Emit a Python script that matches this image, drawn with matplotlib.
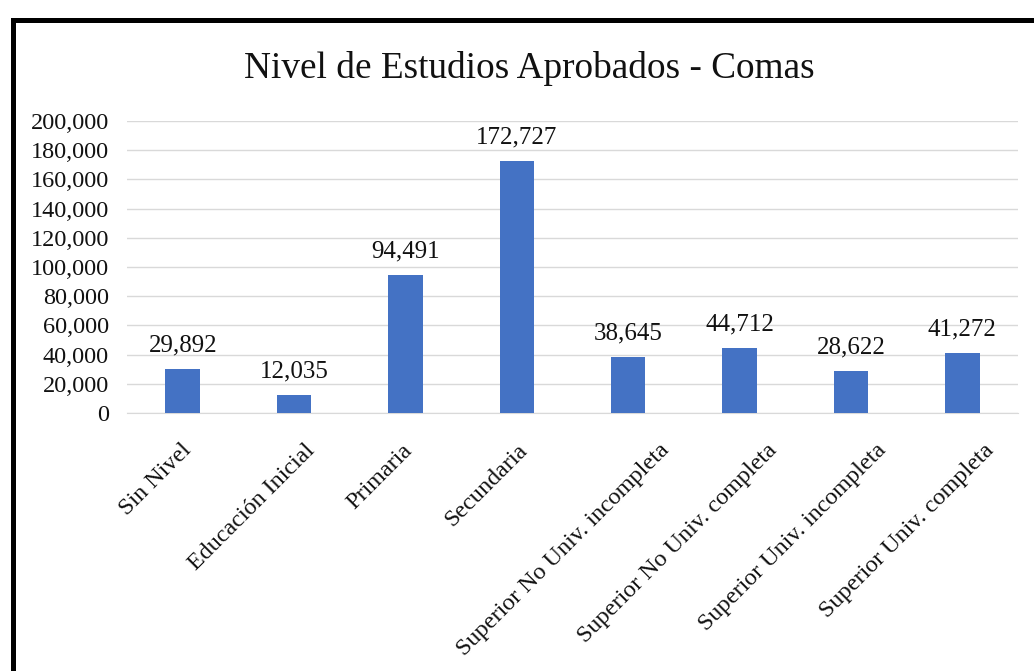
import matplotlib
matplotlib.use("Agg")
import matplotlib.pyplot as plt
from matplotlib.lines import Line2D
from matplotlib.ticker import FuncFormatter, MultipleLocator
from matplotlib.transforms import ScaledTranslation

categories = ["Sin Nivel", "Educación Inicial", "Primaria", "Secundaria",
              "Superior No Univ. incompleta", "Superior No Univ. completa",
              "Superior Univ. incompleta", "Superior Univ. completa"]
values = [29892, 12035, 94491, 172727, 38645, 44712, 28622, 41272]
title = "Nivel de Estudios Aprobados - Comas"

plt.rcParams['font.family'] = ['Liberation Serif', 'DejaVu Serif']

W, H = 1034, 671
fig = plt.figure(figsize=(W/100, H/100), dpi=100)
fig.patch.set_facecolor('white')

ax = fig.add_axes([127/W, 1-413/H, (1018-127)/W, (413-121)/H])
x = list(range(len(categories)))
ax.bar(x, values, width=0.31, color='#4472C4', zorder=3)
ax.set_xlim(-0.5, len(categories)-0.5)
ax.set_ylim(0, 200000)
ax.yaxis.set_major_locator(MultipleLocator(20000))
ax.yaxis.set_major_formatter(FuncFormatter(lambda v, p: f"{int(v):,}"))
ax.grid(axis='y', color='#D9D9D9', linewidth=1.0, zorder=0)
for s in ['top', 'right', 'left']:
    ax.spines[s].set_visible(False)
ax.spines['bottom'].set_color('#D9D9D9')
ax.tick_params(axis='y', length=0, labelsize=17.5, pad=13, labelcolor='#111111')
ax.set_xticks(x)
ax.set_xticklabels([])
ax.tick_params(axis='x', length=0)

# rotated category labels (Excel-like placement: shift grows with label length)
fig.canvas.draw()
renderer = fig.canvas.get_renderer()
label_fs = 17.4
for xi, cat in zip(x, categories):
    tmp = fig.text(0, 0, cat, fontsize=label_fs)
    wpx = tmp.get_window_extent(renderer).width
    tmp.remove()
    dx = (0.162 * wpx - 17) / 100.0
    tr = ax.get_xaxis_transform() + ScaledTranslation(dx, -27/100.0, fig.dpi_scale_trans)
    ax.text(xi, 0, cat, transform=tr, rotation=45, ha='right', va='top',
            rotation_mode='anchor', fontsize=label_fs, color='#111111', clip_on=False)

for xi, v in zip(x, values):
    ax.annotate(f"{v:,}", (xi, v), xytext=(0, 9), textcoords='offset points',
                ha='center', va='bottom', fontsize=18, color='#111111')

fig.text(529/W, 1-69/H, title, ha='center', va='center', fontsize=26.8, color='#111111')

# outer black frame (cropped on right and bottom)
lw = 5 * 72 / 100
fig.add_artist(Line2D([13/W, 13/W, 1.0], [0.0, 1-19.5/H, 1-19.5/H],
                      transform=fig.transFigure, color='black', linewidth=lw,
                      solid_joinstyle='miter'))

fig.savefig("out.png", dpi=100)
